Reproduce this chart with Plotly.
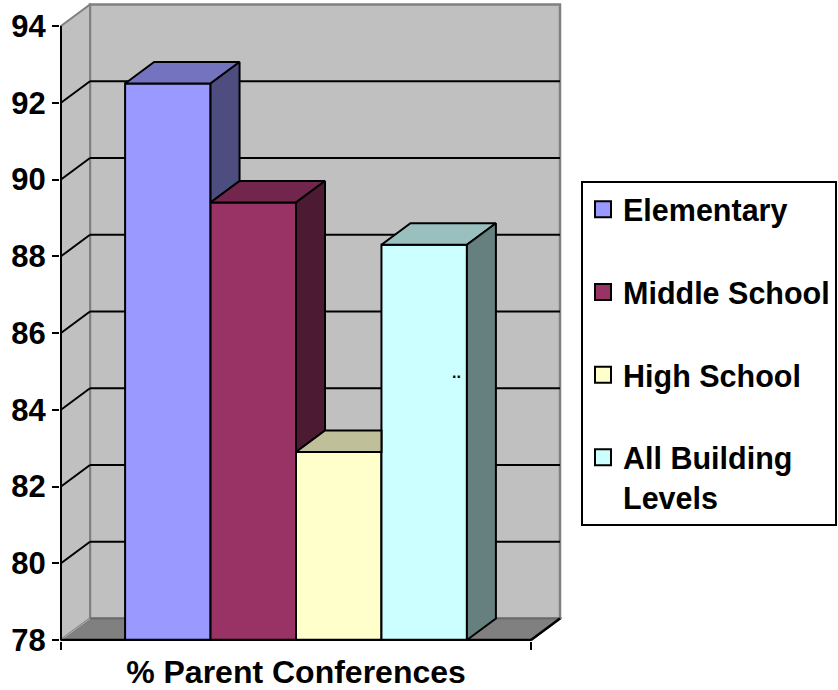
import plotly.graph_objects as go

# ---- data -------------------------------------------------------------
series_names = ["Elementary", "Middle School", "High School", "All Building Levels"]
legend_text = ["Elementary", "Middle School", "High School", "All Building<br>Levels"]
values = [92.5, 89.4, 82.9, 88.3]
category_label = "% Parent Conferences"
y_ticks = [78, 80, 82, 84, 86, 88, 90, 92, 94]

# ---- colours: front face, top face (75 %), side face (50 %) ------------
front_colors = ["#9999FF", "#993366", "#FFFFCC", "#CCFFFF"]
top_colors = ["#7373BF", "#73264D", "#BFBF99", "#99BFBF"]
side_colors = ["#4D4D80", "#4D1A33", "#808066", "#668080"]
WALL = "#C0C0C0"
FLOOR = "#808080"
EDGE = "#808080"

# ---- geometry of the pseudo-3D box ------------------------------------
W, H = 838, 690
Y_MIN, Y_MAX = 78, 94
X0, X1 = -1.25, 4.25            # front edge of the floor (gap = 0.75 bar)
BAR_W = 1.0
PX_X = 470 / (X1 - X0)          # pixels per x unit
PX_Y = 614 / (Y_MAX - Y_MIN)    # pixels per y unit
DX = 29 / PX_X                  # depth offset (x)
DY = 21.5 / PX_Y                # depth offset (y)
PAD = 1                         # px between plot edge and axis lines

ML, MT = 60, 3
plot_w, plot_h = 502, 638
MR = W - ML - plot_w
MB = H - MT - plot_h
x_range = [X0 - PAD / PX_X, X0 - PAD / PX_X + plot_w / PX_X]
y_range = [Y_MIN - PAD / PX_Y, Y_MIN - PAD / PX_Y + plot_h / PX_Y]

FONT = "Liberation Sans, Arial, sans-serif"


def path(pts):
    return "M " + " L ".join(f"{x},{y}" for x, y in pts) + " Z"


shapes = []
# back wall
shapes.append(dict(type="path", layer="below",
                   path=path([(X0 + DX, Y_MIN + DY), (X1 + DX, Y_MIN + DY),
                              (X1 + DX, Y_MAX + DY), (X0 + DX, Y_MAX + DY)]),
                   fillcolor=WALL, line=dict(color=EDGE, width=2.5)))
# side wall
shapes.append(dict(type="path", layer="below",
                   path=path([(X0, Y_MIN), (X0 + DX, Y_MIN + DY),
                              (X0 + DX, Y_MAX + DY), (X0, Y_MAX)]),
                   fillcolor=WALL, line=dict(color=EDGE, width=2)))
# floor
shapes.append(dict(type="path", layer="below",
                   path=path([(X0, Y_MIN), (X1, Y_MIN),
                              (X1 + DX, Y_MIN + DY), (X0 + DX, Y_MIN + DY)]),
                   fillcolor=FLOOR, line=dict(color="#6A6A6A", width=2)))
shapes.append(dict(type="line", layer="below", x0=X0, y0=Y_MIN, x1=X0 + DX, y1=Y_MIN + DY,
                   line=dict(color="#A8A8A8", width=1.5)))
shapes.append(dict(type="line", layer="below", x0=X1, y0=Y_MIN, x1=X1 + DX, y1=Y_MIN + DY,
                   line=dict(color="black", width=2.5)))
# grid lines on the side and back walls
for v in y_ticks[1:-1]:
    shapes.append(dict(type="line", layer="below", x0=X0, y0=v, x1=X0 + DX, y1=v + DY,
                       line=dict(color="black", width=2)))
    shapes.append(dict(type="line", layer="below", x0=X0 + DX, y0=v + DY, x1=X1 + DX, y1=v + DY,
                       line=dict(color="black", width=2)))

fig = go.Figure()

# front faces
for i, (name, v) in enumerate(zip(series_names, values)):
    fig.add_trace(go.Bar(x=[i], y=[v], width=BAR_W, name=name, showlegend=False,
                         marker=dict(color=front_colors[i], line=dict(color="black", width=2)),
                         hoverinfo="name+y"))

# top and side faces, clipped where the neighbouring bar hides them
for i, v in enumerate(values):
    left, right = i - BAR_W / 2, i + BAR_W / 2
    nxt = values[i + 1] if i + 1 < len(values) else None
    if nxt is not None and nxt > v:
        top = [(left, v), (right, v), (right, v + DY), (left + DX, v + DY)]
    else:
        top = [(left, v), (right, v), (right + DX, v + DY), (left + DX, v + DY)]
    fig.add_trace(go.Scatter(x=[p[0] for p in top] + [top[0][0]],
                             y=[p[1] for p in top] + [top[0][1]],
                             mode="lines", fill="toself", fillcolor=top_colors[i],
                             line=dict(color="black", width=2),
                             showlegend=False, hoverinfo="skip"))
    if nxt is None or nxt < v:
        base = Y_MIN if nxt is None else nxt
        side = [(right, base), (right + DX, base + DY), (right + DX, v + DY), (right, v)]
        fig.add_trace(go.Scatter(x=[p[0] for p in side] + [side[0][0]],
                                 y=[p[1] for p in side] + [side[0][1]],
                                 mode="lines", fill="toself", fillcolor=side_colors[i],
                                 line=dict(color="black", width=2),
                                 showlegend=False, hoverinfo="skip"))

# front axis lines
fig.add_trace(go.Scatter(x=[X0, X0], y=[Y_MIN, Y_MAX], mode="lines",
                         line=dict(color="black", width=2), showlegend=False, hoverinfo="skip"))
fig.add_trace(go.Scatter(x=[X0, X1], y=[Y_MIN, Y_MIN], mode="lines",
                         line=dict(color="black", width=2.5), showlegend=False, hoverinfo="skip"))

# legend swatches
for i, name in enumerate(series_names):
    fig.add_trace(go.Scatter(x=[None], y=[None], mode="markers", name=legend_text[i],
                             legendgroup=name,
                             marker=dict(symbol="square", size=16, color=front_colors[i],
                                         line=dict(color="black", width=2))))

fig.add_annotation(x=X0 + 395 / PX_X, y=Y_MIN + 268 / PX_Y, text="..", showarrow=False,
                   font=dict(size=16, color="black"))

fig.update_layout(
    width=W, height=H,
    margin=dict(l=ML, r=MR, t=MT, b=MB, pad=0, autoexpand=False),
    paper_bgcolor="white", plot_bgcolor="white",
    font=dict(family=FONT, size=31, color="black", weight="bold"),
    barmode="overlay",
    shapes=shapes,
    showlegend=True,
    legend=dict(x=(581 - ML) / plot_w, y=(MT + plot_h - 181) / plot_h,
                xanchor="left", yanchor="top",
                bordercolor="black", borderwidth=2, bgcolor="white",
                tracegroupgap=40, valign="top",
                font=dict(family=FONT, size=30.5, weight="bold")),
    xaxis=dict(range=x_range, showgrid=False, zeroline=False, showline=False,
               tickvals=[(X0 + X1) / 2], ticktext=[category_label], ticks="",
               ticklabelstandoff=9, tickfont=dict(size=32),
               minor=dict(tickvals=[X0, X1], ticks="outside", ticklen=8,
                          tickwidth=2, tickcolor="black", showgrid=False),
               fixedrange=True),
    yaxis=dict(range=y_range, showgrid=False, zeroline=False, showline=False,
               tickvals=y_ticks, ticks="outside", ticklen=7, tickwidth=2,
               tickcolor="black", fixedrange=True),
)

fig.write_html("out.html")
